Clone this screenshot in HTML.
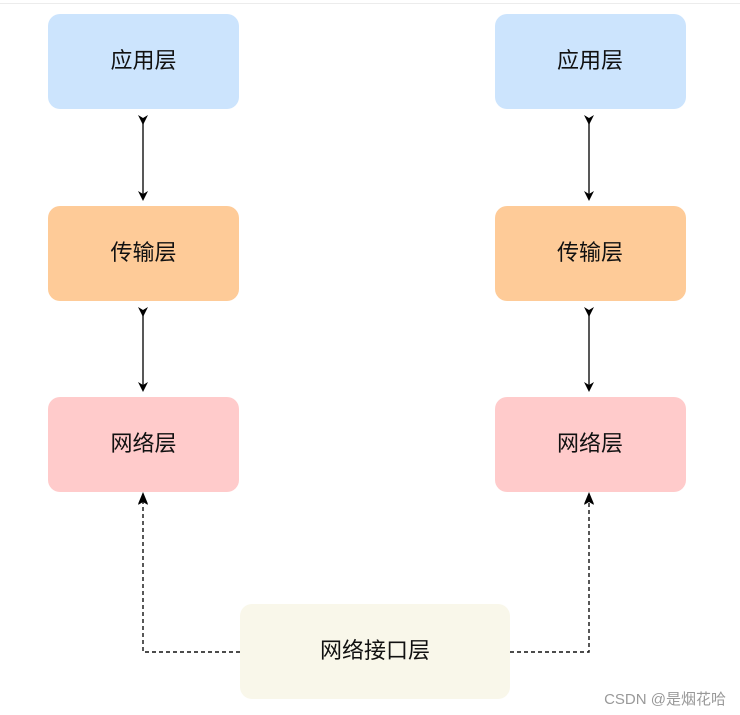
<!DOCTYPE html>
<html><head><meta charset="utf-8"><style>
html,body{margin:0;padding:0;background:#fff;}
svg{display:block;}
text{font-family:"Liberation Sans","Noto Sans CJK SC",sans-serif;}
</style></head><body>
<svg width="740" height="715" viewBox="0 0 740 715" xmlns="http://www.w3.org/2000/svg">
<defs>
<marker id="a" markerWidth="10" markerHeight="10" refX="5" refY="5" orient="auto" markerUnits="userSpaceOnUse">
<path d="M0,0 L10,5 L0,10 L3,5 Z" fill="#000"/>
</marker>
</defs>
<line x1="0" y1="3.5" x2="740" y2="3.5" stroke="#ececec" stroke-width="1"/>
<g font-size="22" text-anchor="middle" fill="#111">
<rect x="48" y="14" width="191" height="95" rx="12" fill="#cce4fd"/>
<text x="143.5" y="68">应用层</text>
<rect x="48" y="206" width="191" height="95" rx="12" fill="#fecb98"/>
<text x="143.5" y="260">传输层</text>
<rect x="48" y="397" width="191" height="95" rx="12" fill="#ffcbcb"/>
<text x="143.5" y="451">网络层</text>
<rect x="495" y="14" width="191" height="95" rx="12" fill="#cce4fd"/>
<text x="590" y="68">应用层</text>
<rect x="495" y="206" width="191" height="95" rx="12" fill="#fecb98"/>
<text x="590" y="260">传输层</text>
<rect x="495" y="397" width="191" height="95" rx="12" fill="#ffcbcb"/>
<text x="590" y="451">网络层</text>
<rect x="240" y="604" width="270" height="95" rx="12" fill="#f9f7ea"/>
<text x="375" y="658">网络接口层</text>
</g>
<g stroke="#111" stroke-width="1.4" fill="none">
<line x1="143" y1="120" x2="143" y2="196" marker-start="url(#a)" marker-end="url(#a)"/>
<line x1="143" y1="312" x2="143" y2="387" marker-start="url(#a)" marker-end="url(#a)"/>
<line x1="589" y1="120" x2="589" y2="196" marker-start="url(#a)" marker-end="url(#a)"/>
<line x1="589" y1="312" x2="589" y2="387" marker-start="url(#a)" marker-end="url(#a)"/>
<polyline points="240,652 143,652 143,500" stroke-dasharray="4,3" marker-end="url(#a)"/>
<polyline points="510,652 589,652 589,500" stroke-dasharray="4,3" marker-end="url(#a)"/>
</g>
<g fill="#000">
<path d="M143,492 L138,504 L143,501 L148,504 Z"/>
<path d="M589,492 L584,504 L589,501 L594,504 Z"/>
</g>
<text x="726" y="704" font-size="15" text-anchor="end" fill="#999">CSDN @是烟花哈</text>
</svg>
</body></html>
